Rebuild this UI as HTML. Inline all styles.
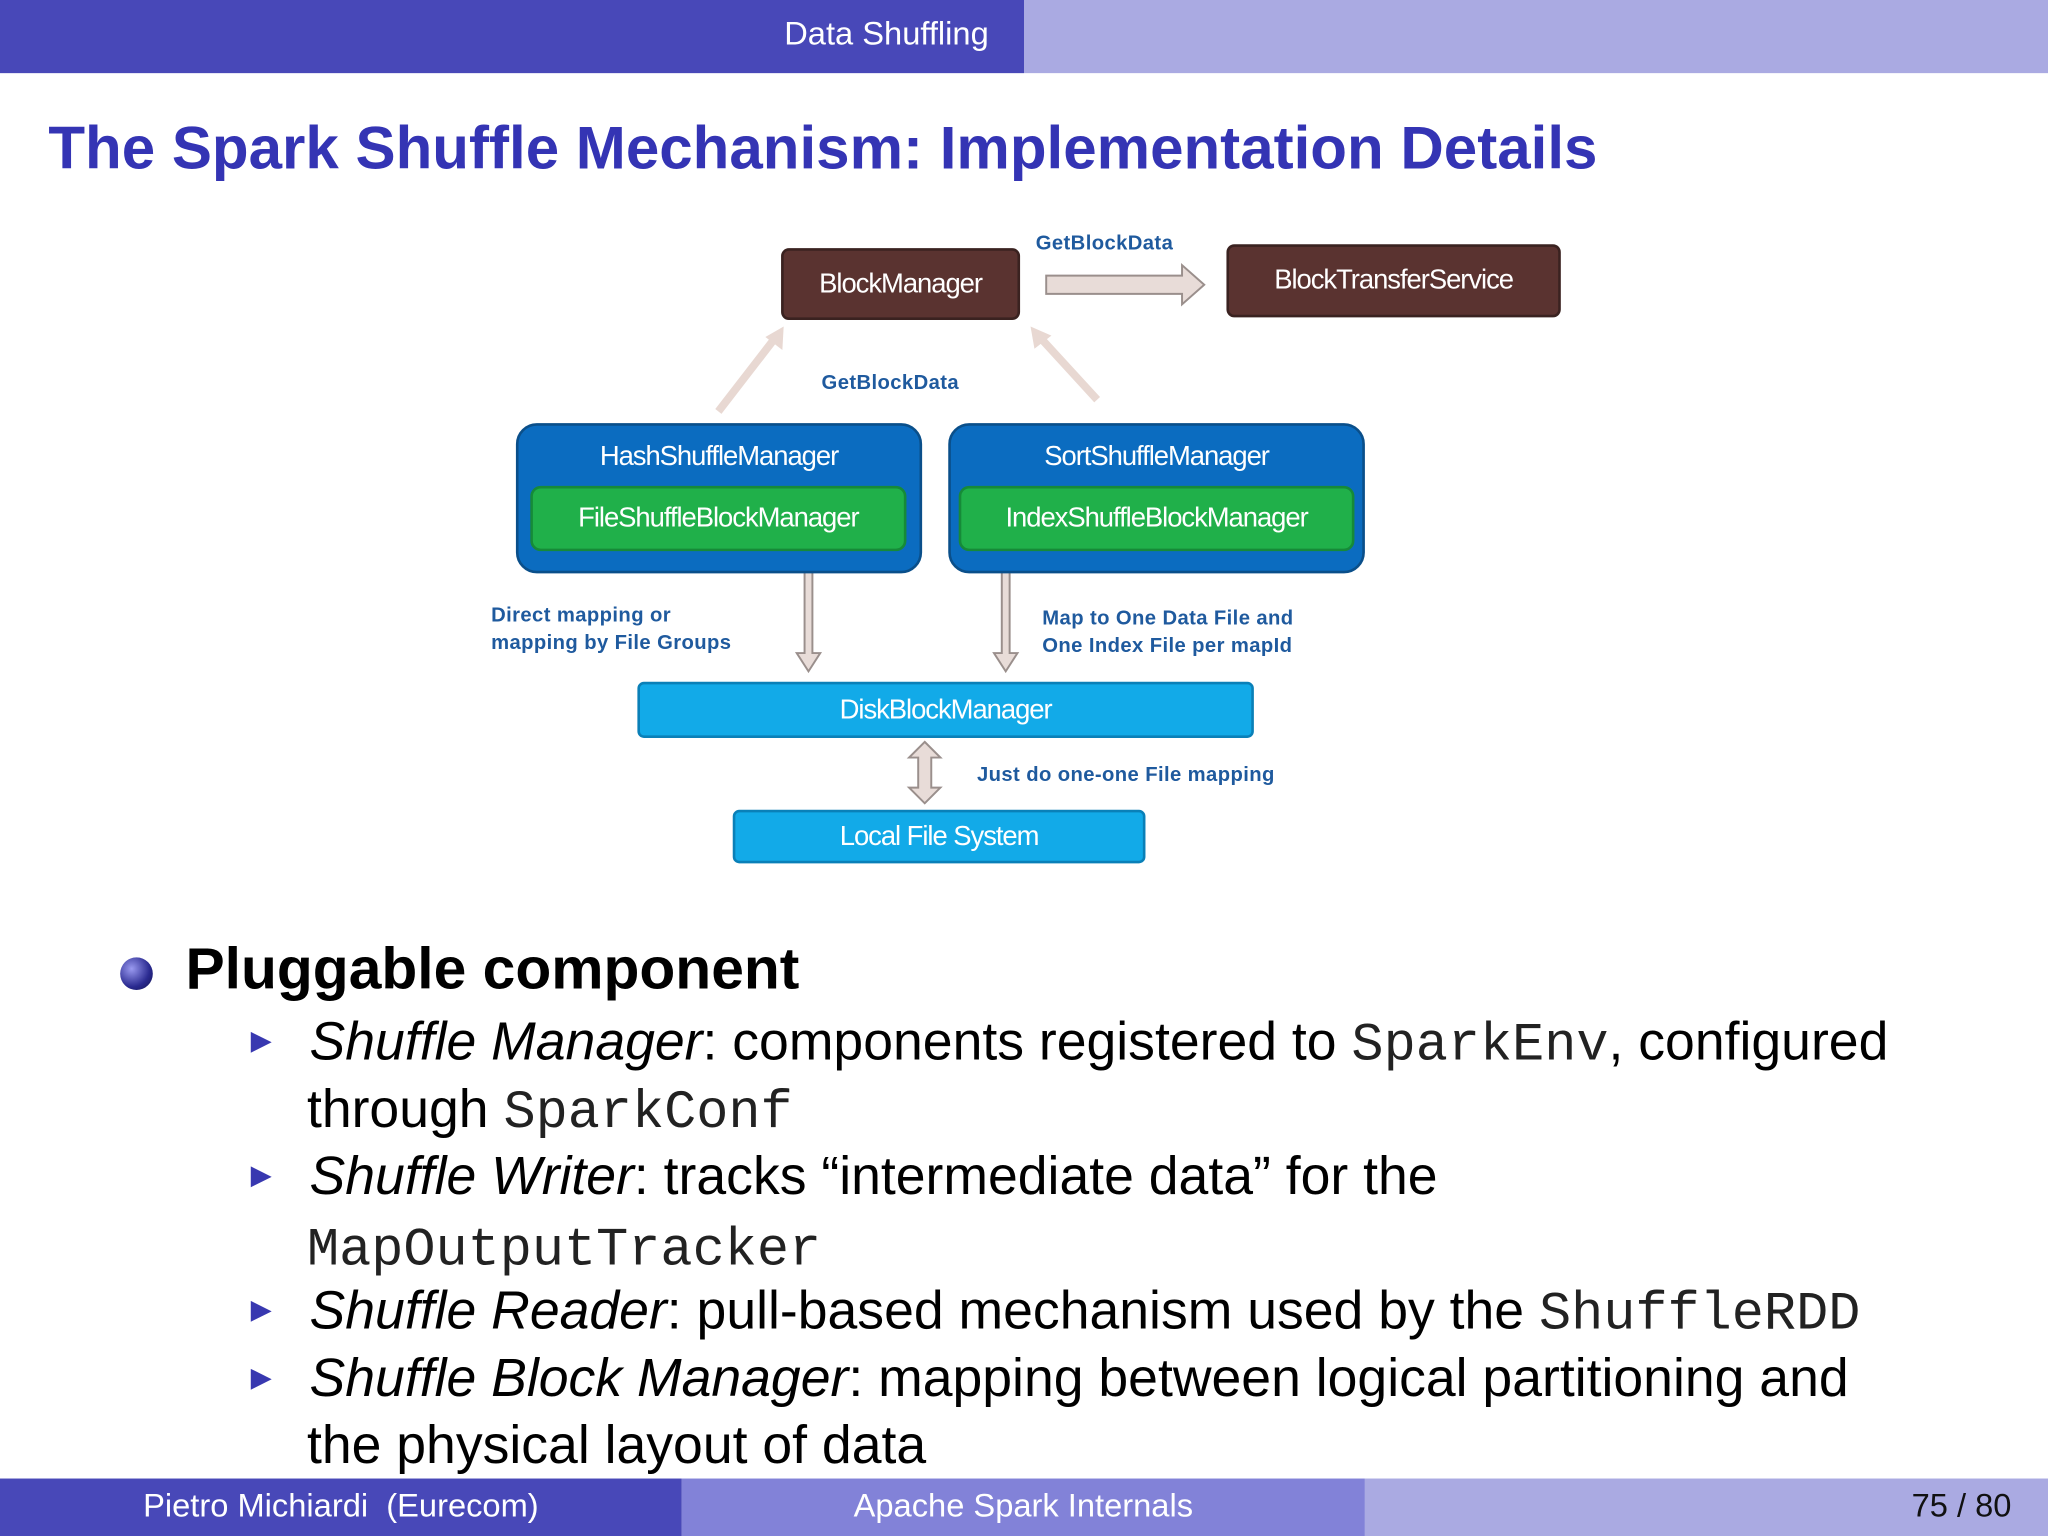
<!DOCTYPE html>
<html><head><meta charset="utf-8"><style>
html,body{margin:0;padding:0;background:#fff;}
body{width:2048px;height:1536px;overflow:hidden;position:relative;}
#w{position:absolute;left:0;top:0;width:1568px;height:1176px;transform:scale(1.306122);transform-origin:0 0;font-family:"Liberation Sans",sans-serif;}
.a{position:absolute;}
.box{position:absolute;display:flex;align-items:center;justify-content:center;color:#fff;font-size:21px;letter-spacing:-0.8px;box-sizing:border-box;}
.lbl{position:absolute;color:#1f5a9e;font-weight:bold;font-size:15.5px;line-height:21px;letter-spacing:0.3px;}
.sub{position:absolute;left:237px;font-size:41px;color:#000;line-height:52px;}
.tri{position:absolute;left:192px;width:0;height:0;border-top:8px solid transparent;border-bottom:8px solid transparent;border-left:16px solid #3838b0;}
.m{font-family:"Liberation Mono",monospace;color:#222;}
</style></head><body><div id="w">
<div class="a" style="left:0;top:0;width:784px;height:56px;background:#4848b8"></div>
<div class="a" style="left:784px;top:0;width:784px;height:56px;background:#aaaae2"></div>
<div class="a" style="left:500px;top:12px;width:257px;text-align:right;color:#fff;font-size:25px">Data Shuffling</div>
<div class="a" style="left:37px;top:86px;color:#3434b4;font-size:46px;font-weight:bold;white-space:nowrap">The Spark Shuffle Mechanism: Implementation Details</div>

<svg class="a" style="left:0;top:0" width="1568" height="700">
<g fill="#e8dcd8" stroke="#9a8f8c" stroke-width="1.5">
<polygon points="801,211 905,211 905,203 922,218 905,233 905,225 801,225"/>
<polygon points="613,432 619,422 625,432 622,432 622,500 628,500 619,514 610,500 616,500 616,432"/>
<polygon points="764,432 770,422 776,432 773,432 773,500 779,500 770,514 761,500 767,500 767,432"/>
<polygon points="708,568 720,580 713,580 713,603 720,603 708,615 696,603 703,603 703,580 696,580"/>
</g>
<line x1="550" y1="315" x2="594" y2="258" stroke="#e8d8d2" stroke-width="6"/>
<polygon points="600,250 599,268 586,258" fill="#e8d8d2"/>
<line x1="840" y1="306" x2="796" y2="258" stroke="#e8d8d2" stroke-width="6"/>
<polygon points="789,250 805,257 792,267" fill="#e8d8d2"/>
</svg>

<div class="box" style="left:598px;top:190px;width:183px;height:55px;background:#5a3330;border-radius:6px;border:2px solid #3a2220">BlockManager</div>
<div class="box" style="left:939px;top:187px;width:256px;height:56px;background:#5a3330;border-radius:6px;border:2px solid #3a2220">BlockTransferService</div>
<div class="lbl" style="left:793px;top:176px">GetBlockData</div>
<div class="lbl" style="left:629px;top:283px">GetBlockData</div>

<div class="a" style="left:395px;top:324px;width:311px;height:115px;background:#0b6cc0;border-radius:16px;border:2px solid #0a4f8a;box-sizing:border-box"></div>
<div class="box" style="left:395px;top:334px;width:311px;height:32px">HashShuffleManager</div>
<div class="box" style="left:406px;top:372px;width:288px;height:50px;background:#20b04a;border-radius:8px;border:2px solid #168a38">FileShuffleBlockManager</div>
<div class="a" style="left:726px;top:324px;width:319px;height:115px;background:#0b6cc0;border-radius:16px;border:2px solid #0a4f8a;box-sizing:border-box"></div>
<div class="box" style="left:726px;top:334px;width:319px;height:32px">SortShuffleManager</div>
<div class="box" style="left:734px;top:372px;width:303px;height:50px;background:#20b04a;border-radius:8px;border:2px solid #168a38">IndexShuffleBlockManager</div>

<div class="lbl" style="left:376px;top:461px">Direct mapping or<br>mapping by File Groups</div>
<div class="lbl" style="left:798px;top:463px">Map to One Data File and<br>One Index File per mapId</div>
<div class="box" style="left:488px;top:522px;width:472px;height:43px;background:#12aae8;border-radius:5px;border:2px solid #0a80b8">DiskBlockManager</div>
<div class="lbl" style="left:748px;top:583px">Just do one-one File mapping</div>
<div class="box" style="left:561px;top:620px;width:316px;height:41px;background:#12aae8;border-radius:5px;border:2px solid #0a80b8">Local File System</div>

<div class="a" style="left:92px;top:733px;width:25px;height:25px;border-radius:50%;background:radial-gradient(circle at 35% 35%,#9a9af0,#2a2a90 60%,#10104a)"></div>
<div class="a" style="left:142px;top:716px;font-size:45px;font-weight:bold;color:#000">Pluggable component</div>

<div class="tri" style="top:790px"></div>
<div class="sub" style="top:771px;white-space:nowrap"><i>Shuffle Manager</i>: components registered to <span class="m">SparkEnv</span>, configured</div>
<div class="sub" style="top:823px;left:235px"><span>through </span><span class="m">SparkConf</span></div>
<div class="tri" style="top:893px"></div>
<div class="sub" style="top:874px;white-space:nowrap"><i>Shuffle Writer</i>: tracks “intermediate data” for the</div>
<div class="sub" style="top:928px;left:235px"><span class="m">MapOutputTracker</span></div>
<div class="tri" style="top:996px"></div>
<div class="sub" style="top:977px;white-space:nowrap"><i>Shuffle Reader</i>: pull-based mechanism used by the <span class="m">ShuffleRDD</span></div>
<div class="tri" style="top:1048px"></div>
<div class="sub" style="top:1029px;white-space:nowrap"><i>Shuffle Block Manager</i>: mapping between logical partitioning and</div>
<div class="sub" style="top:1080px;left:235px;white-space:nowrap">the physical layout of data</div>

<div class="a" style="left:0;top:1132px;width:522px;height:44px;background:#4848b8"></div>
<div class="a" style="left:522px;top:1132px;width:523px;height:44px;background:#8282d8"></div>
<div class="a" style="left:1045px;top:1132px;width:523px;height:44px;background:#aaaae2"></div>
<div class="a" style="left:0;top:1139px;width:522px;text-align:center;color:#fff;font-size:25px;white-space:pre">Pietro Michiardi  (Eurecom)</div>
<div class="a" style="left:522px;top:1139px;width:523px;text-align:center;color:#fff;font-size:25px">Apache Spark Internals</div>
<div class="a" style="left:1300px;top:1139px;width:240px;text-align:right;color:#111;font-size:25px">75 / 80</div>
</div></body></html>
